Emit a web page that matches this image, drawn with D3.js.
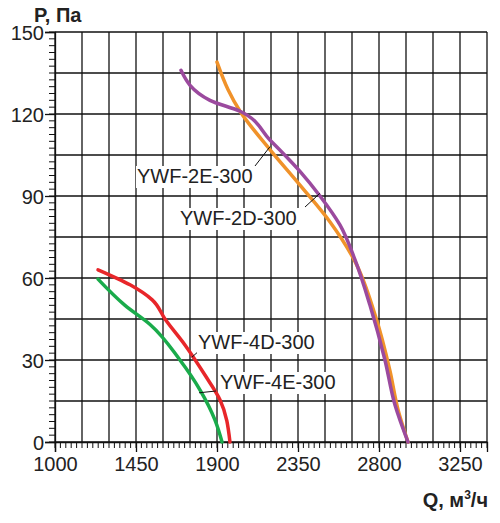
<!DOCTYPE html>
<html><head><meta charset="utf-8">
<script src="https://cdn.jsdelivr.net/npm/d3@7"></script>
<style>body{margin:0;background:#fff}text{font-family:"Liberation Sans",Arial,sans-serif}</style>
</head><body><div id="chart"></div>
<script>
// curve data: [Q, P]
const fan2D = [[1900,139],[1961,129],[2028,121],[2194,107],[2361,94],[2528,80.5],[2667,66],[2778,46.5],[2861,26],[2906,11.7],[2961,0]];
const fan2E = [[1700,136],[1861,125],[2028,121],[2194,110.5],[2361,99],[2472,90],[2583,79.4],[2667,66.6],[2750,50],[2833,30],[2889,13.5],[2961,0]];
const fan4D = [[1239,63],[1417,57.5],[1540,52],[1611,45],[1722,35.5],[1833,24.5],[1917,15.4],[1972,0]];
const fan4E = [[1239,59.6],[1389,50],[1528,43],[1694,30],[1806,19],[1889,8],[1928,0]];
const xTicks = [1000,1450,1900,2350,2800,3250];
const yTicks = [0,30,60,90,120,150];

const W = 500, H = 523;
const m = {left: 55, right: 13, top: 32, bottom: 81};
const FS = 20;
const svg = d3.select('#chart').append('svg').attr('width', W).attr('height', H);
const x = d3.scaleLinear().domain([1000,3400]).range([m.left, W - m.right]);
const y = d3.scaleLinear().domain([0,150]).range([H - m.bottom, m.top]);

// grid
svg.append('g').selectAll('line').data(d3.range(1000, 3401, 150)).join('line')
  .attr('x1', d => x(d)).attr('x2', d => x(d)).attr('y1', y(0)).attr('y2', y(150))
  .attr('stroke', '#111').attr('stroke-width', 1.3);
svg.append('g').selectAll('line').data(d3.range(0, 151, 15)).join('line')
  .attr('x1', x(1000)).attr('x2', x(3400)).attr('y1', d => y(d)).attr('y2', d => y(d))
  .attr('stroke', '#111').attr('stroke-width', 1.3);

// minor ticks
svg.append('g').selectAll('line').data(d3.range(1000, 3401, 30)).join('line')
  .attr('x1', d => x(d)).attr('x2', d => x(d)).attr('y1', y(0)).attr('y2', y(0) + 6)
  .attr('stroke', '#111');
svg.append('g').selectAll('line').data(d3.range(0, 151, 2.5)).join('line')
  .attr('x1', x(1000) - 6).attr('x2', x(1000)).attr('y1', d => y(d)).attr('y2', d => y(d))
  .attr('stroke', '#111');

// axes
const xAxis = svg.append('g').attr('transform', `translate(0,${y(0)})`)
  .call(d3.axisBottom(x).tickValues(xTicks).tickFormat(d3.format('d')).tickSize(10).tickPadding(1));
const yAxis = svg.append('g').attr('transform', `translate(${x(1000)},0)`)
  .call(d3.axisLeft(y).tickValues(yTicks).tickFormat(d3.format('d')).tickSize(10).tickPadding(1));
[xAxis, yAxis].forEach(g => {
  g.selectAll('text').attr('font-size', FS).attr('fill', '#222').style('font-family', '"Liberation Sans",Arial,sans-serif');
  g.selectAll('line,path').attr('stroke', '#111').attr('stroke-width', 1.3);
});
xAxis.selectAll('text').attr('dy', '0.9em');
yAxis.selectAll('text').attr('dy', '0.35em');

svg.append('text').attr('x', 34).attr('y', 22).attr('font-size', FS).attr('font-weight', 'bold').attr('fill', '#222').text('P, Па');
const ql = svg.append('text').attr('x', W - 12).attr('y', 507).attr('text-anchor', 'end')
  .attr('font-size', FS).attr('font-weight', 'bold').attr('fill', '#222');
ql.append('tspan').text('Q, м');
ql.append('tspan').attr('font-size', 12).attr('dy', -8).text('3');
ql.append('tspan').attr('dy', 8).text('/ч');

// curves
const series = [[fan2D, '#f0922a'], [fan2E, '#9b4a9e'], [fan4D, '#e8262a'], [fan4E, '#1aab4b']];
series.forEach(([data, c]) => {
  svg.append('path').datum(data).attr('d', d3.line().x(d => x(d[0])).y(d => y(d[1])).curve(d3.curveMonotoneY))
    .attr('fill', 'none').attr('stroke', c).attr('stroke-width', 3.5).attr('stroke-linecap', 'round');
});

// labels with leader lines: [text, textX, textY, lineFrom, lineTo(Q,P)]
const labels = [
  ['YWF-2E-300', 137, 183, [255, 166], [2194, 108]],
  ['YWF-2D-300', 180, 225, [305, 207], [2472, 91]],
  ['YWF-4D-300', 198, 349, [200, 350], [1760, 31]],
  ['YWF-4E-300', 220, 389, [216, 391], [1800, 18]]
];
labels.forEach(([t, tx, ty, a, b]) => {
  svg.append('line').attr('x1', a[0]).attr('y1', a[1]).attr('x2', x(b[0])).attr('y2', y(b[1]))
    .attr('stroke', '#111').attr('stroke-width', 1);
  svg.append('rect').attr('x', tx - 1).attr('y', ty - 17).attr('width', 127).attr('height', 22).attr('fill', '#fff');
  svg.append('text').attr('x', tx).attr('y', ty).attr('font-size', FS).attr('fill', '#222').text(t);
});
</script></body></html>
